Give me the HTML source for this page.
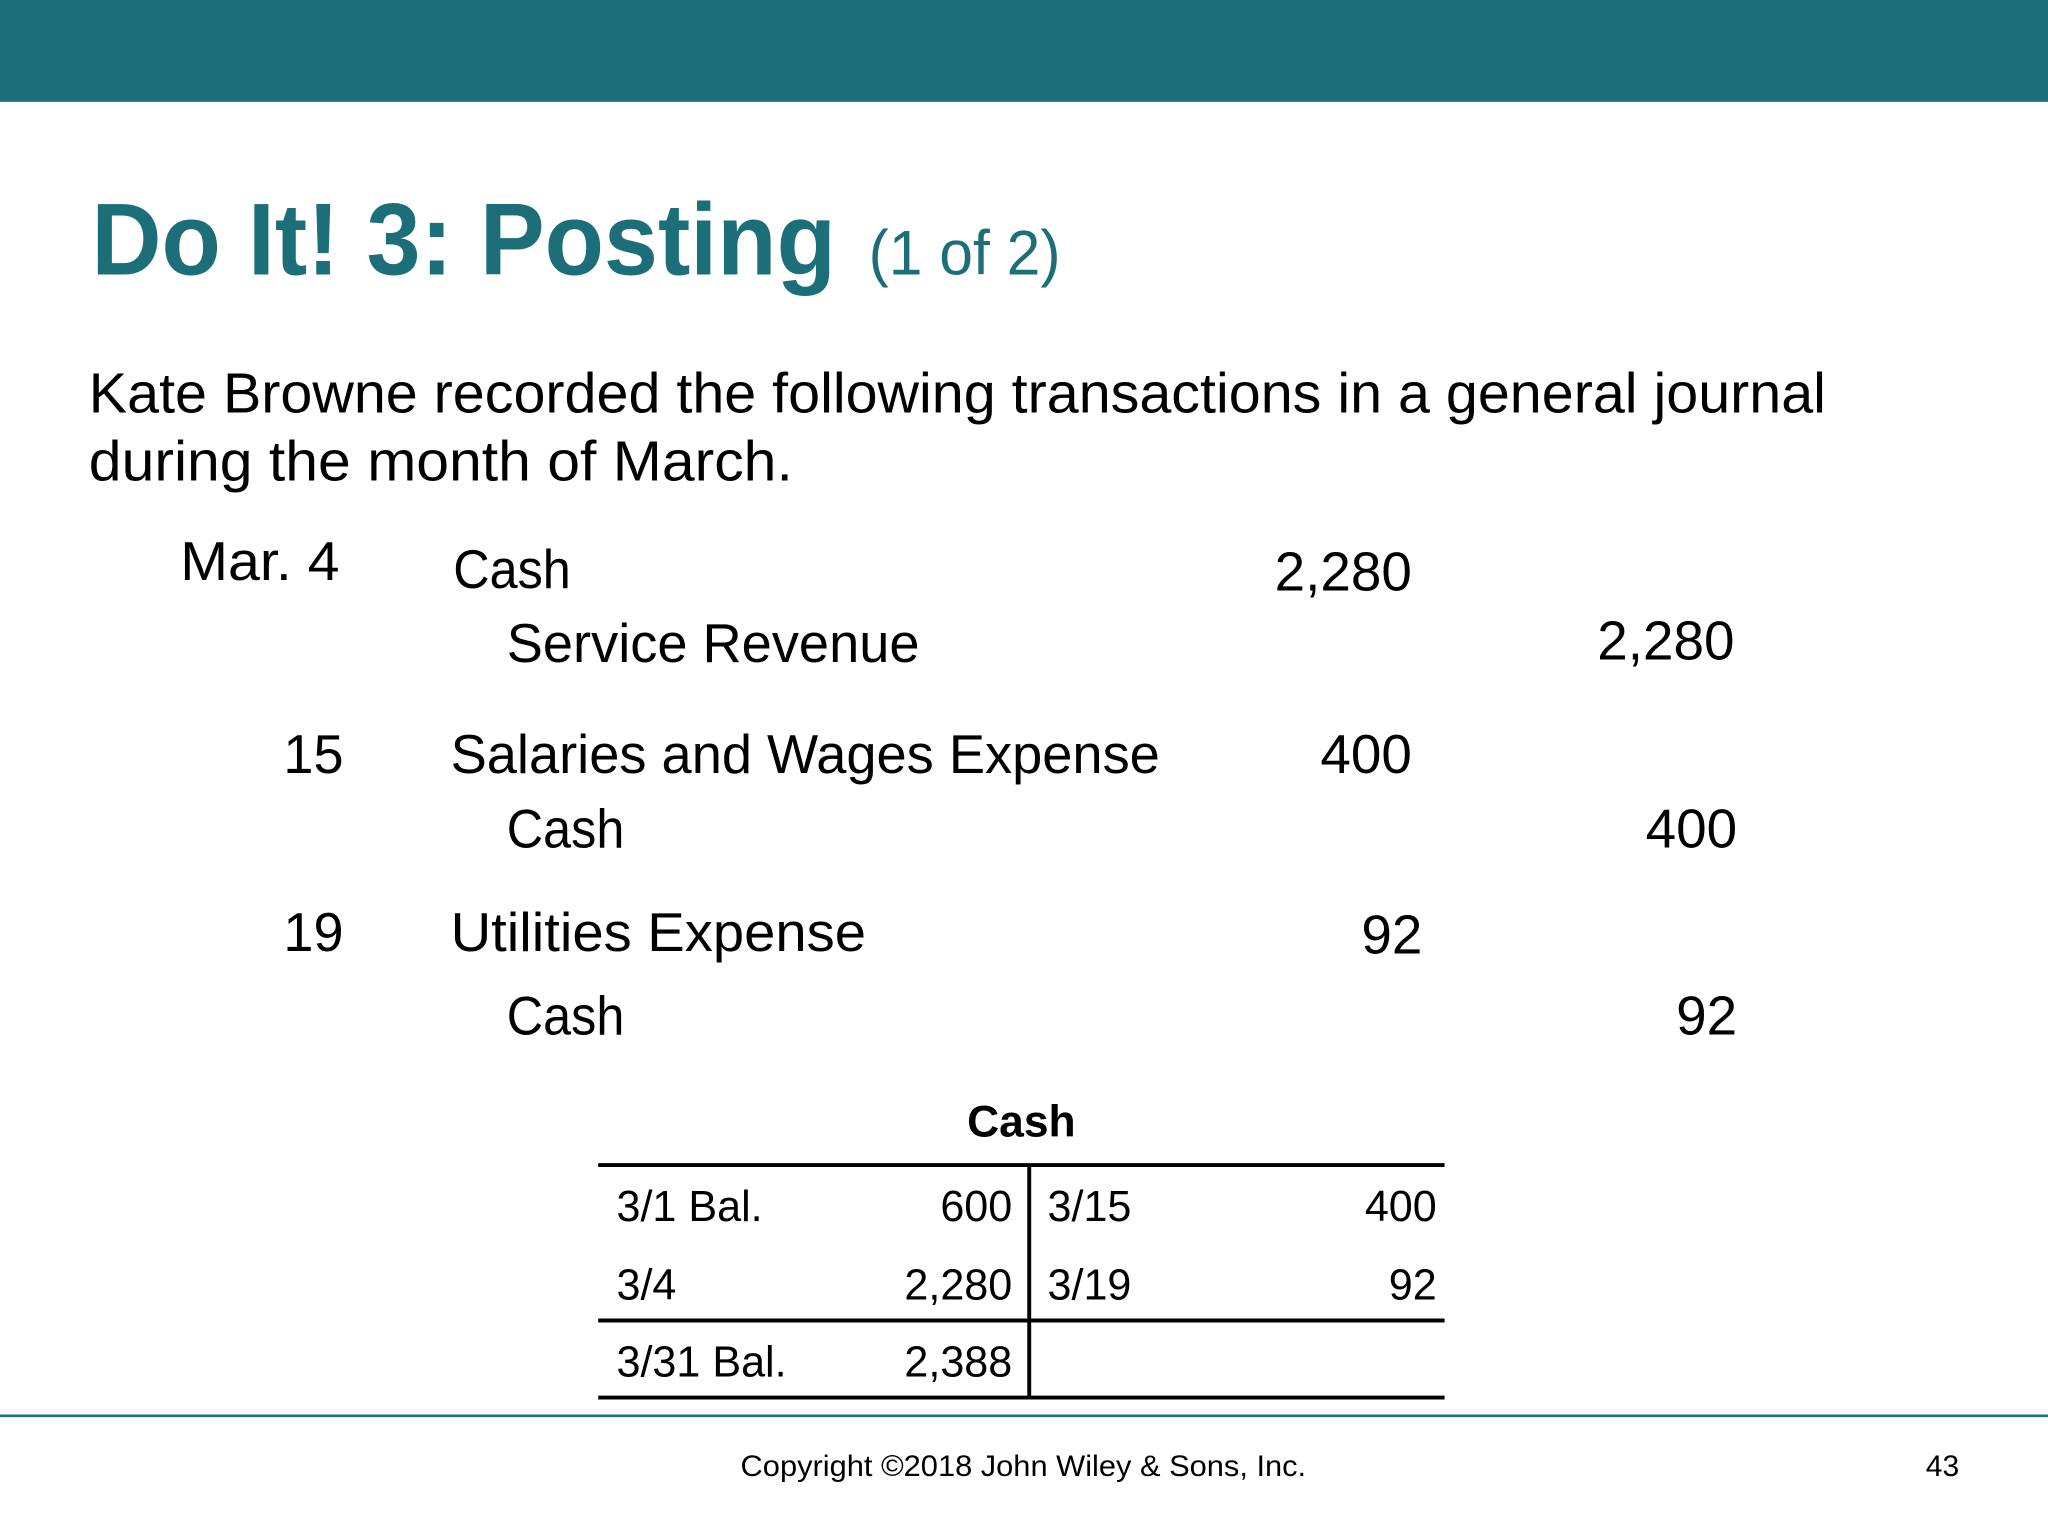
<!DOCTYPE html>
<html><head><meta charset="utf-8"><style>
html,body{margin:0;padding:0;background:#fff;}
svg{display:block;}
text{font-family:"Liberation Sans",sans-serif;fill:#000;}
</style></head><body>
<svg width="2048" height="1536" viewBox="0 0 1568 1176" xmlns="http://www.w3.org/2000/svg">
<rect x="0" y="0" width="1568" height="78" fill="#1c6f78"/>
<g>
<text x="70" y="210" font-size="78" font-weight="bold" style="fill:#1c6f78" textLength="570" lengthAdjust="spacingAndGlyphs">Do It! 3: Posting</text>
<text x="665" y="210" font-size="48" style="fill:#1c6f78" textLength="147" lengthAdjust="spacingAndGlyphs">(1 of 2)</text>
</g>
<g font-size="43">
<text x="68" y="316" textLength="1330" lengthAdjust="spacingAndGlyphs">Kate Browne recorded the following transactions in a general journal</text>
<text x="68" y="368" textLength="539" lengthAdjust="spacingAndGlyphs">during the month of March.</text>
</g>
<g font-size="42">
<text x="138" y="444" textLength="122" lengthAdjust="spacingAndGlyphs">Mar. 4</text>
<text x="347" y="450" textLength="90" lengthAdjust="spacingAndGlyphs">Cash</text>
<text x="1081" y="452" text-anchor="end">2,280</text>
<text x="388" y="507" textLength="316" lengthAdjust="spacingAndGlyphs">Service Revenue</text>
<text x="1328" y="505" text-anchor="end">2,280</text>
<text x="217" y="592" textLength="46" lengthAdjust="spacingAndGlyphs">15</text>
<text x="345" y="592" textLength="543" lengthAdjust="spacingAndGlyphs">Salaries and Wages Expense</text>
<text x="1081" y="592" text-anchor="end">400</text>
<text x="388" y="649" textLength="90" lengthAdjust="spacingAndGlyphs">Cash</text>
<text x="1330" y="649" text-anchor="end">400</text>
<text x="217" y="728" textLength="46" lengthAdjust="spacingAndGlyphs">19</text>
<text x="345" y="728" textLength="318" lengthAdjust="spacingAndGlyphs">Utilities Expense</text>
<text x="1089" y="730" text-anchor="end">92</text>
<text x="388" y="792" textLength="90" lengthAdjust="spacingAndGlyphs">Cash</text>
<text x="1330" y="792" text-anchor="end">92</text>
</g>
<g font-size="33">
<text x="782" y="870" text-anchor="middle" font-weight="bold" font-size="34">Cash</text>
<line x1="458" y1="892" x2="1106" y2="892" stroke="#000" stroke-width="3"/>
<line x1="788" y1="892" x2="788" y2="1070" stroke="#000" stroke-width="3"/>
<line x1="458" y1="1011" x2="1106" y2="1011" stroke="#000" stroke-width="3"/>
<line x1="458" y1="1070" x2="1106" y2="1070" stroke="#000" stroke-width="3"/>
<text x="472" y="935">3/1 Bal.</text><text x="775" y="935" text-anchor="end">600</text>
<text x="802" y="935">3/15</text><text x="1100" y="935" text-anchor="end">400</text>
<text x="472" y="995">3/4</text><text x="775" y="995" text-anchor="end">2,280</text>
<text x="802" y="995">3/19</text><text x="1100" y="995" text-anchor="end">92</text>
<text x="472" y="1054">3/31 Bal.</text><text x="775" y="1054" text-anchor="end">2,388</text>
</g>
<line x1="0" y1="1084" x2="1568" y2="1084" stroke="#1c6f78" stroke-width="2"/>
<text x="567" y="1130" font-size="23" textLength="433" lengthAdjust="spacingAndGlyphs">Copyright ©2018 John Wiley &amp; Sons, Inc.</text>
<text x="1500" y="1130" font-size="23" text-anchor="end">43</text>
</svg>
</body></html>
